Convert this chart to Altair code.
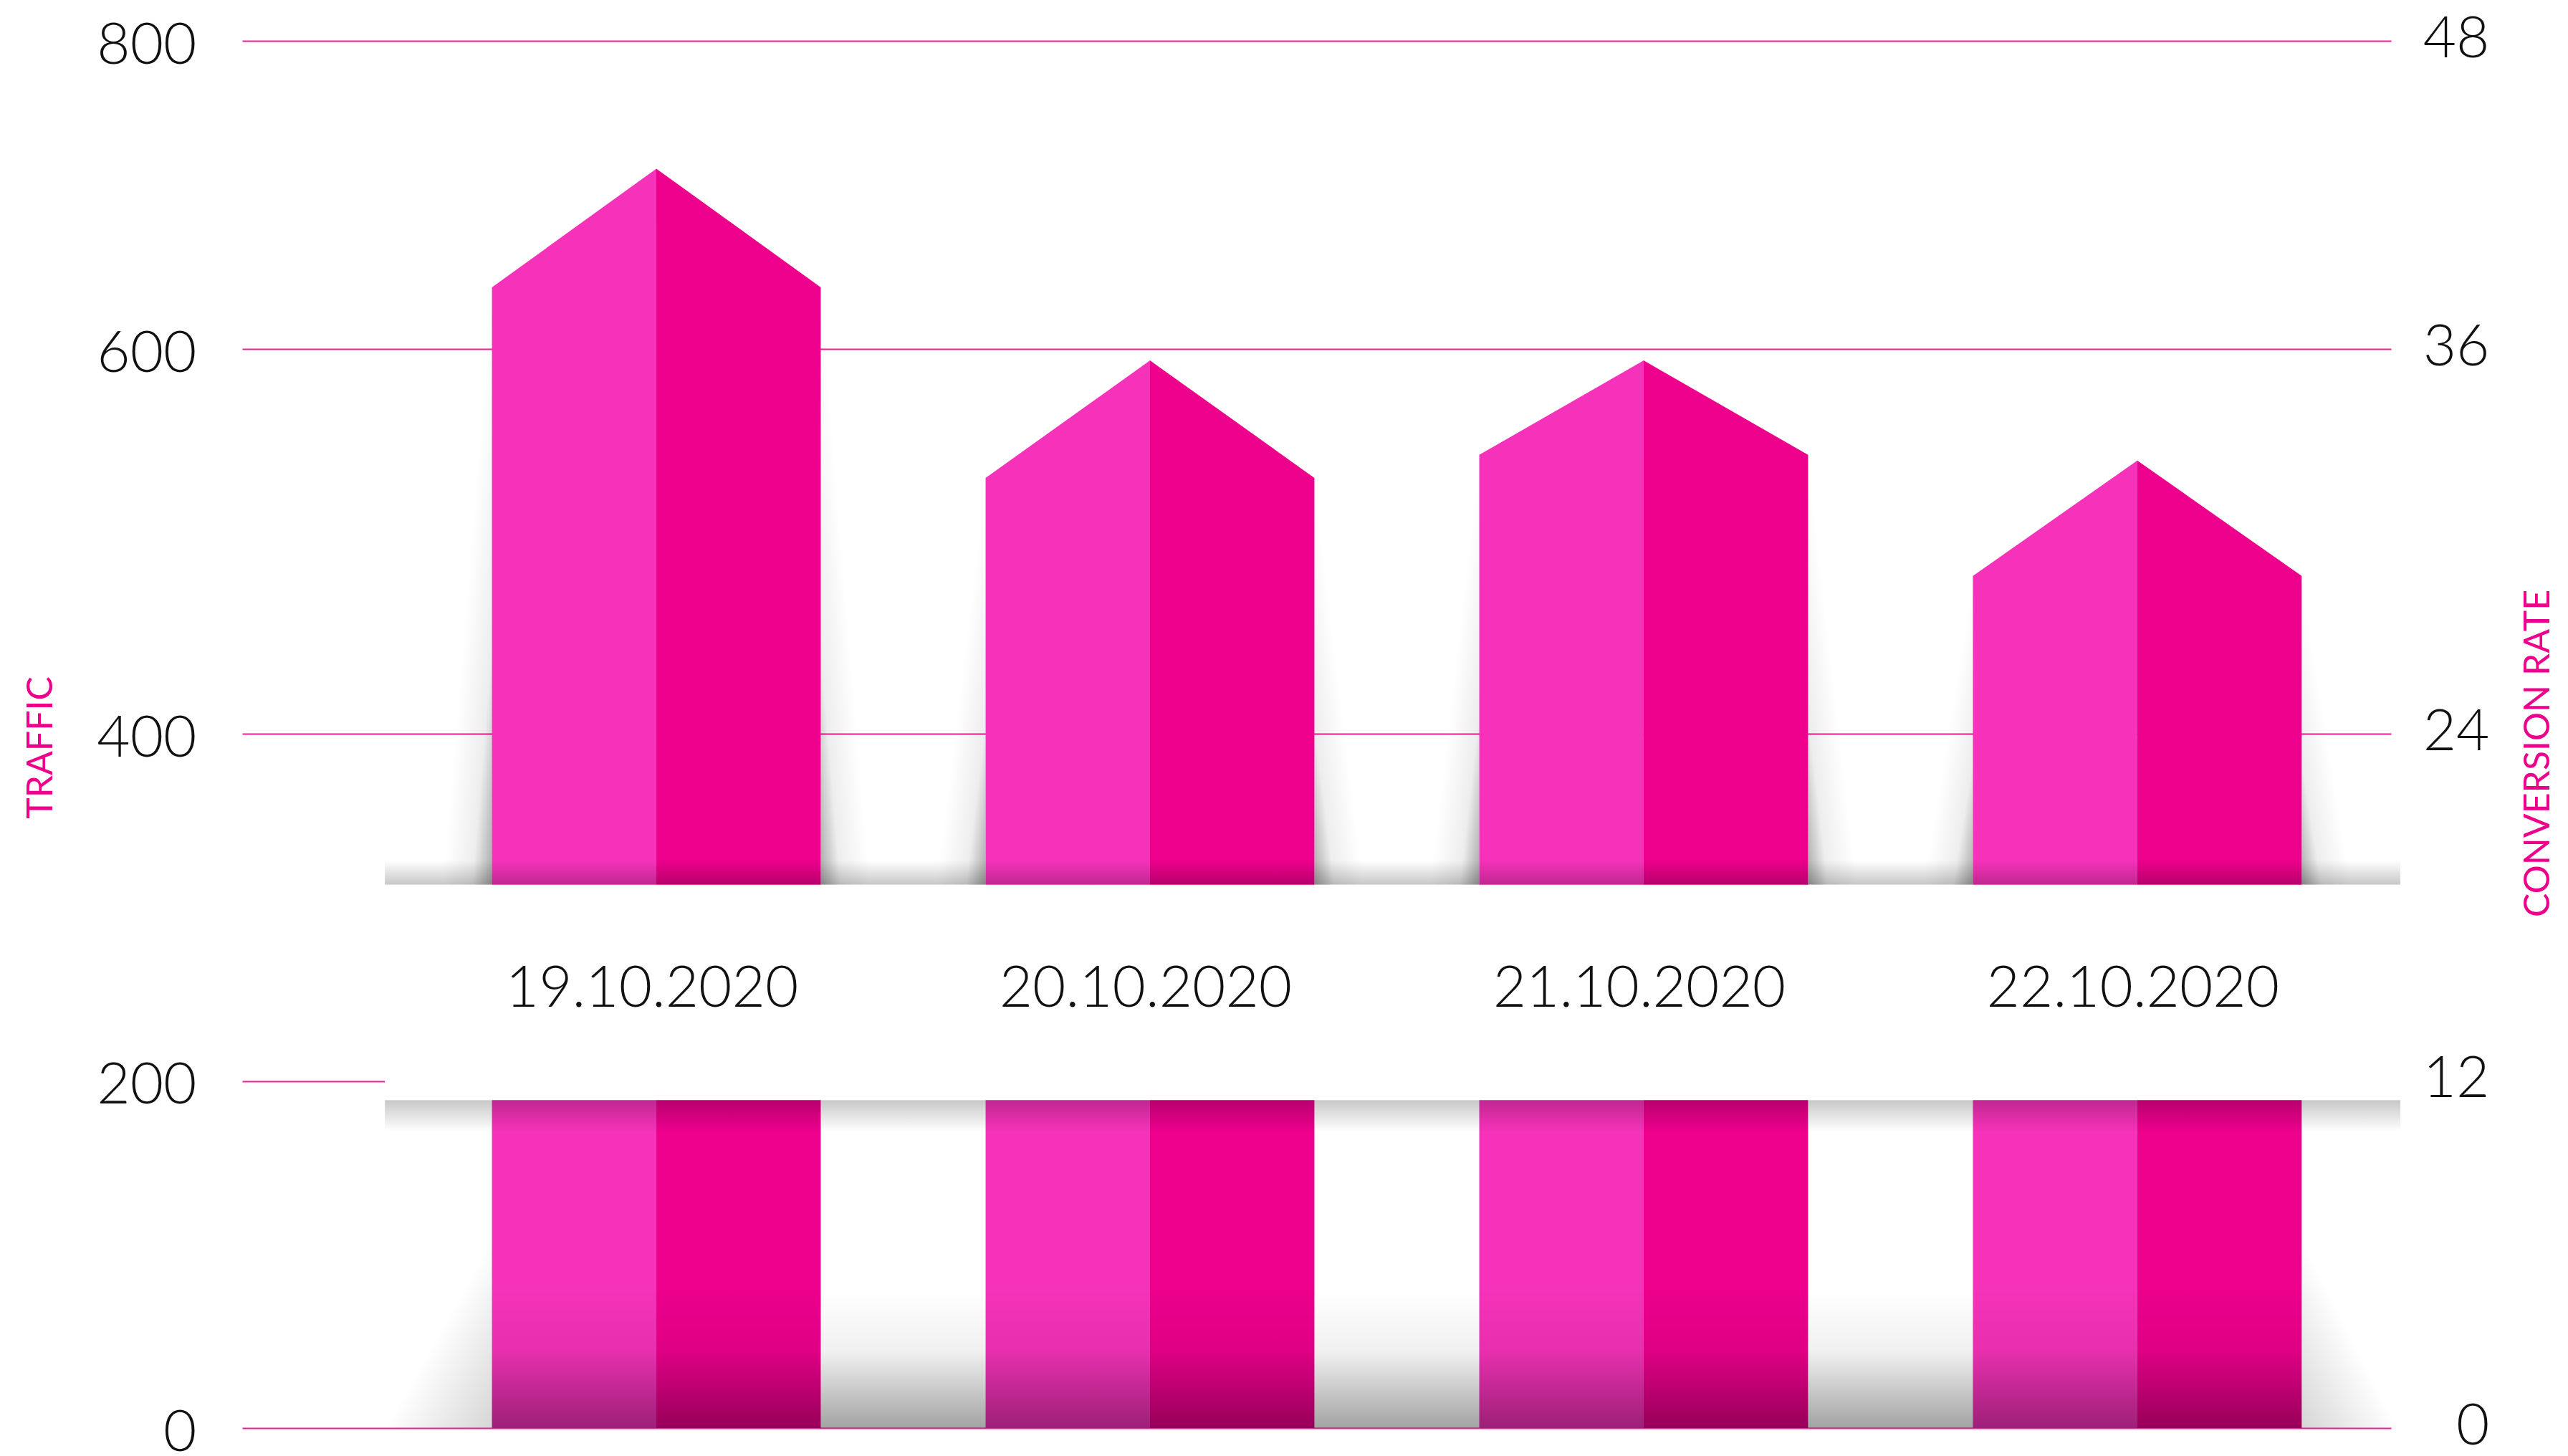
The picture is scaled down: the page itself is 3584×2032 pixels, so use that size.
import altair as alt
import pandas as pd

# ---------------- data ----------------
dates = ["19.10.2020", "20.10.2020", "21.10.2020", "22.10.2020"]
traffic = [640, 533, 545, 482]          # height of the bar body (shoulder)
roof_peak = [717, 594, 594, 542]        # height of the roof tip
traffic_ticks = [0, 200, 400, 600, 800]
rate_ticks = [0, 12, 24, 36, 48]

# ---------------- style / layout ----------------
PINK_LIGHT = "#F532B9"
PINK_DARK = "#EC008C"
GRID = "#EE1E98"
FONT = "Lato"

W, H = 2999, 1936
y_domain = [0, 400, 600, 800]
y_range = [H, 967, 430, 0]
rate_domain = [0, 24, 36, 48]
x_domain = [-0.839, 3.514]
HW = 0.333           # half bar width (category units)
SW = 0.10            # side shadow width
BAND_TOP, BAND_BOTTOM = 313, 189
BAND_X = [-0.55, 3.533]

xscale = alt.Scale(domain=x_domain, nice=False, zero=False)
yscale = alt.Scale(domain=y_domain, range=y_range, nice=False, zero=False)
rscale = alt.Scale(domain=rate_domain, range=y_range, nice=False, zero=False)

left_axis = alt.Axis(
    orient="left", values=traffic_ticks, title="TRAFFIC",
    grid=True, gridColor=GRID, gridWidth=2, gridOpacity=1,
    domain=False, ticks=False, tickSize=0,
    labelFont=FONT, labelFontSize=80, labelFontWeight=300, labelColor="#111111",
    labelAlign="right", labelBaseline="middle", labelPadding=64, labelOffset=7,
    titleFont=FONT, titleFontSize=50, titleFontWeight=400, titleColor=PINK_DARK,
    titleAngle=270, titleAlign="center", titleBaseline="middle",
    titleX=-281, titleY=986,
)

# house polygons (two halves per bar)
rows = []
for i, (d, s, p) in enumerate(zip(dates, traffic, roof_peak)):
    rows += [
        dict(date=d, half="L", x=i - HW, y=s),
        dict(date=d, half="L", x=i, y=p),
        dict(date=d, half="R", x=i, y=p),
        dict(date=d, half="R", x=i + HW, y=s),
    ]
houses_df = pd.DataFrame(rows)

shadow_l = pd.DataFrame(
    [dict(date=d, x=i - HW - SW, y=BAND_TOP) for i, d in enumerate(dates)]
    + [dict(date=d, x=i - HW, y=s) for i, (d, s) in enumerate(zip(dates, traffic))]
)
shadow_r = pd.DataFrame(
    [dict(date=d, x=i + HW, y=s) for i, (d, s) in enumerate(zip(dates, traffic))]
    + [dict(date=d, x=i + HW + SW, y=BAND_TOP) for i, d in enumerate(dates)]
)
labels_df = pd.DataFrame({"i": list(range(len(dates))), "date": dates})
one = alt.Data(values=[{"k": 1}])


def grad(stops, x1=0, y1=0, x2=0, y2=1):
    return alt.LinearGradient(
        gradient="linear",
        stops=[alt.GradientStop(color=c, offset=o) for o, c in stops],
        x1=x1, y1=y1, x2=x2, y2=y2,
    )


def XD(v):
    return alt.XDatum(v, scale=xscale, axis=None)


def YD(v):
    return alt.YDatum(v, scale=yscale, axis=left_axis)


def YF(f):
    return alt.Y(f, scale=yscale, axis=left_axis, stack=None)


# side shadows (behind bars)
side_left = alt.Chart(shadow_l).mark_area(
    color=grad([(0.5, "rgba(0,0,0,0)"), (0.8, "rgba(0,0,0,0.07)"), (1, "rgba(0,0,0,0.34)")], 0, 0, 1, 1)
).encode(
    x=alt.X("x:Q", scale=xscale, axis=None),
    y=YF("y:Q"),
    y2=alt.datum(BAND_TOP),
    detail="date:N",
)
side_right = alt.Chart(shadow_r).mark_area(
    color=grad([(0.5, "rgba(0,0,0,0)"), (0.8, "rgba(0,0,0,0.07)"), (1, "rgba(0,0,0,0.34)")], 1, 0, 0, 1)
).encode(
    x=alt.X("x:Q", scale=xscale, axis=None),
    y=YF("y:Q"),
    y2=alt.datum(BAND_TOP),
    detail="date:N",
)

houses = alt.Chart(houses_df).mark_area(interpolate="linear").encode(
    x=alt.X("x:Q", scale=xscale, axis=None),
    y=YF("y:Q"),
    y2=alt.datum(0),
    color=alt.Color("half:N", scale=alt.Scale(domain=["L", "R"], range=[PINK_LIGHT, PINK_DARK]), legend=None),
    detail="date:N",
)

# faint outer glow left of the first and right of the last bar, at the base (diagonal fade)
edge_left = alt.Chart(one).mark_rect(
    color=grad([(0.5, "rgba(0,0,0,0)"), (1, "rgba(0,0,0,0.16)")], 0, 0, 1, 1)
).encode(x=XD(-0.55), x2=alt.datum(-HW), y=YD(110), y2=alt.datum(0))
edge_right = alt.Chart(one).mark_rect(
    color=grad([(0.5, "rgba(0,0,0,0)"), (1, "rgba(0,0,0,0.16)")], 1, 0, 0, 1)
).encode(x=XD(3 + HW), x2=alt.datum(3.53), y=YD(110), y2=alt.datum(0))

base = alt.Chart(one).mark_rect(
    color=grad([(0, "rgba(0,0,0,0)"), (0.45, "rgba(0,0,0,0.06)"), (1, "rgba(0,0,0,0.36)")])
).encode(x=XD(-HW), x2=alt.datum(3 + HW), y=YD(80), y2=alt.datum(0))

band_top_shadow = alt.Chart(one).mark_rect(
    color=grad([(0, "rgba(0,0,0,0)"), (1, "rgba(0,0,0,0.22)")])
).encode(x=XD(BAND_X[0]), x2=alt.datum(BAND_X[1]), y=YD(BAND_TOP + 14), y2=alt.datum(BAND_TOP))

band_bottom_shadow = alt.Chart(one).mark_rect(
    color=grad([(0, "rgba(0,0,0,0.22)"), (1, "rgba(0,0,0,0)")])
).encode(x=XD(BAND_X[0]), x2=alt.datum(BAND_X[1]), y=YD(BAND_BOTTOM), y2=alt.datum(BAND_BOTTOM - 18))

band = alt.Chart(one).mark_rect(color="#FFFFFF").encode(
    x=XD(BAND_X[0]), x2=alt.datum(BAND_X[1]), y=YD(BAND_TOP), y2=alt.datum(BAND_BOTTOM)
)

labels = alt.Chart(labels_df).mark_text(
    font=FONT, fontSize=80, fontWeight=300, color="#111111", baseline="middle", align="center", dx=-6
).encode(
    x=alt.X("i:Q", scale=xscale, axis=None),
    y=alt.value(1324),
    text="date:N",
)

traffic_layers = alt.layer(
    side_left, side_right, houses, edge_left, edge_right, base,
    band_top_shadow, band_bottom_shadow, band, labels,
)

rate_layer = alt.Chart(alt.Data(values=[{"rate": 0}])).mark_point(opacity=0).encode(
    x=XD(0),
    y=alt.Y(
        "rate:Q", scale=rscale,
        axis=alt.Axis(
            orient="right", values=rate_ticks, title="CONVERSION RATE", grid=False,
            domain=False, ticks=False, tickSize=0,
            labelFont=FONT, labelFontSize=80, labelFontWeight=300, labelColor="#111111",
            labelAlign="right", labelBaseline="middle", labelPadding=137, labelOffset=-2,
            titleFont=FONT, titleFontSize=50, titleFontWeight=400, titleColor=PINK_DARK,
            titleAngle=270, titleAlign="center", titleBaseline="middle",
            titleX=205, titleY=994,
        ),
    ),
)

chart = alt.layer(traffic_layers, rate_layer).resolve_scale(y="independent").properties(
    width=W, height=H,
    autosize=alt.AutoSizeParams(type="none"),
    padding={"left": 330, "top": 49, "right": 238, "bottom": 34},
    background="#FFFFFF",
).configure_view(stroke=None)

chart.save("out.html", embed_options={"renderer": "svg", "actions": False})
